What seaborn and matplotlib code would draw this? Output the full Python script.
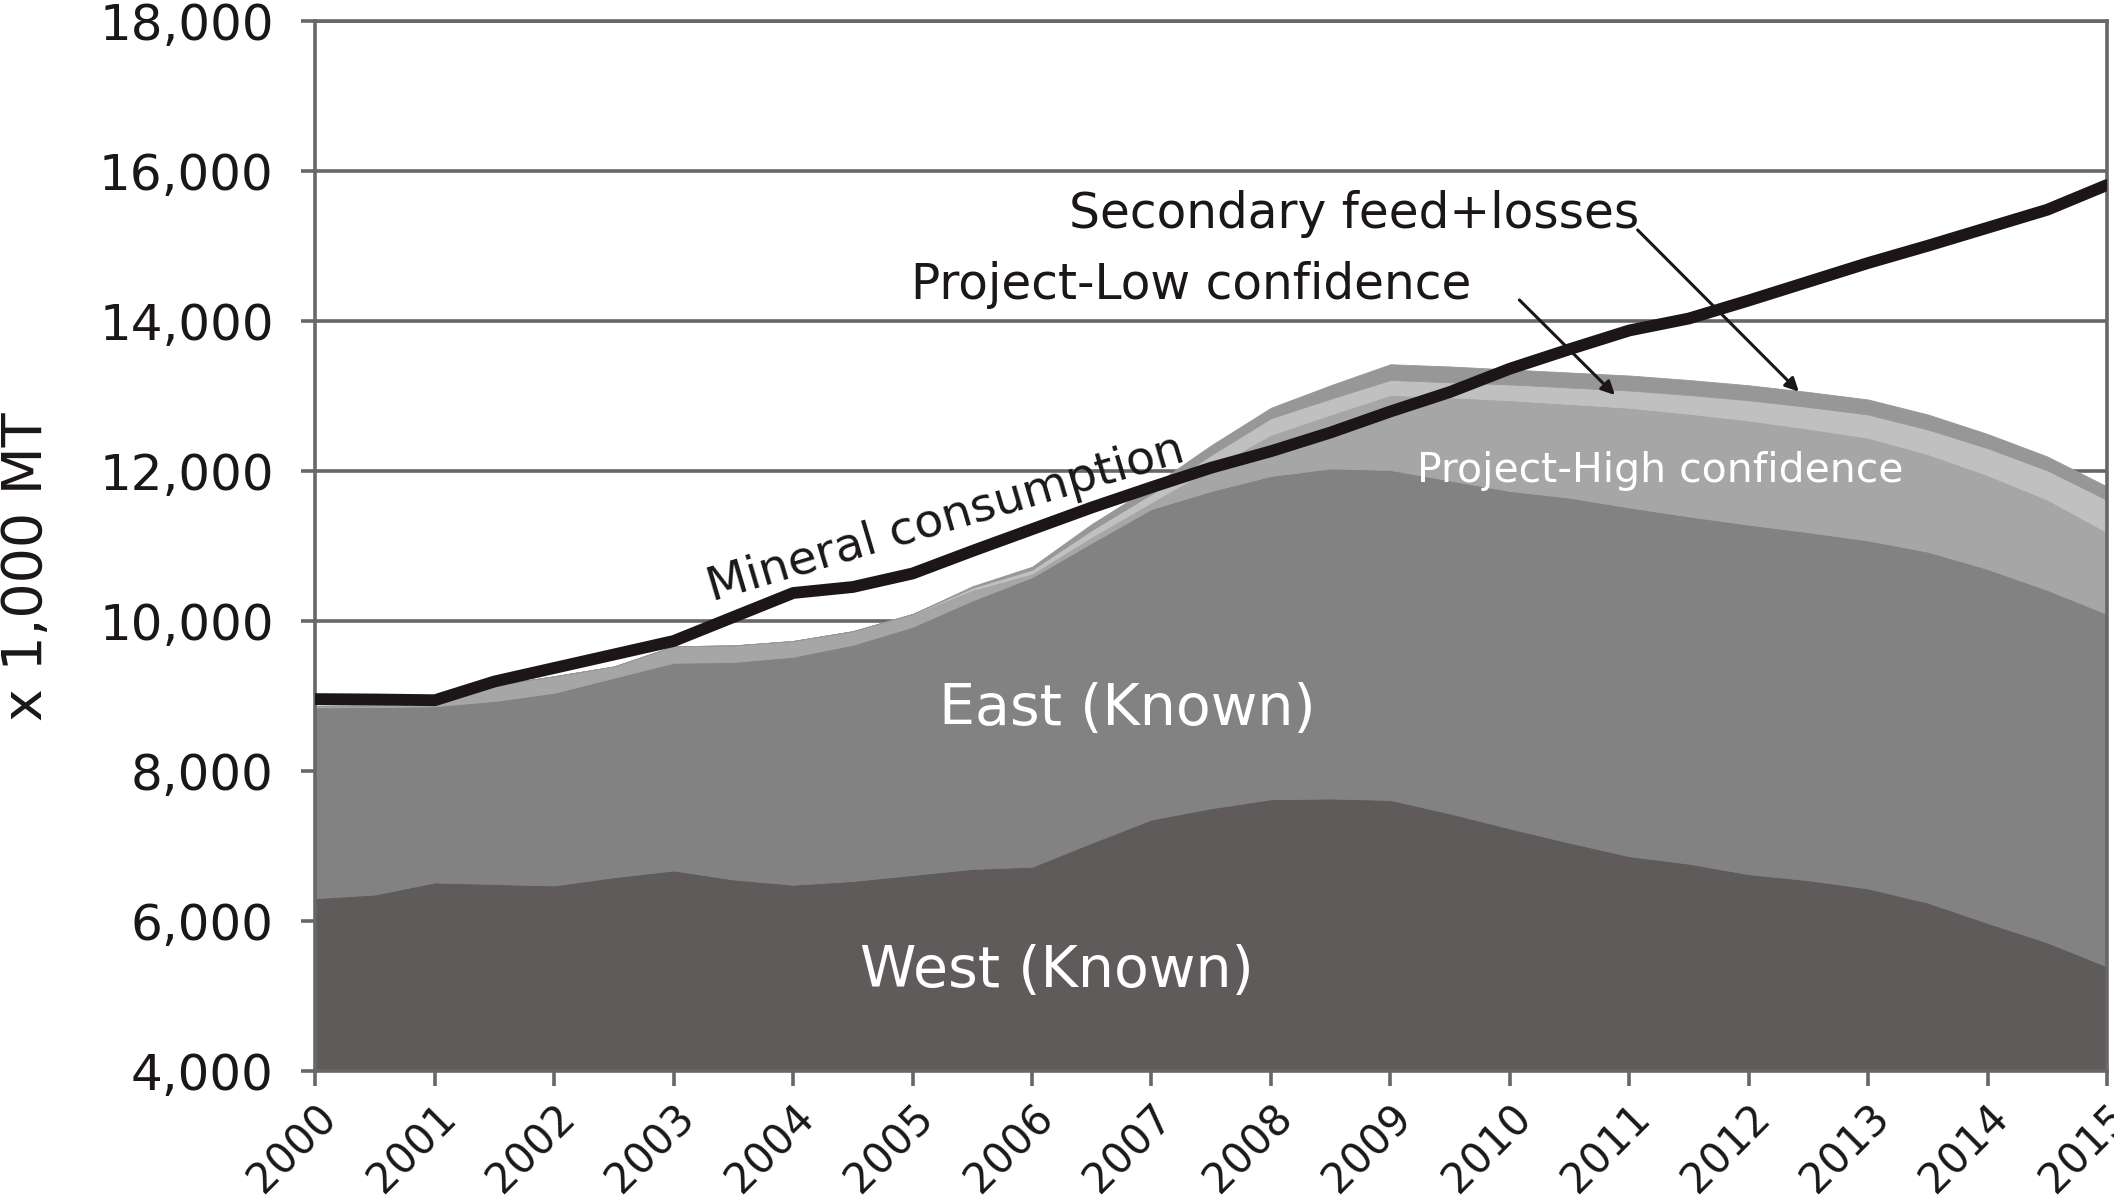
import matplotlib
matplotlib.use("Agg")
import matplotlib.pyplot as plt
from matplotlib.ticker import FuncFormatter
from matplotlib.transforms import ScaledTranslation
import pandas as pd
import seaborn as sns

# half-year points (x 1,000 MT)
years = [2000.0, 2000.5, 2001.0, 2001.5, 2002.0, 2002.5, 2003.0, 2003.5,
         2004.0, 2004.5, 2005.0, 2005.5, 2006.0, 2006.5, 2007.0, 2007.5,
         2008.0, 2008.5, 2009.0, 2009.5, 2010.0, 2010.5, 2011.0, 2011.5,
         2012.0, 2012.5, 2013.0, 2013.5, 2014.0, 2014.5, 2015.0]

west = [6310, 6360, 6520, 6500, 6480, 6590, 6680, 6560,
        6490, 6540, 6620, 6700, 6730, 7050, 7360, 7510,
        7630, 7640, 7620, 7440, 7240, 7050, 6870, 6770,
        6630, 6550, 6440, 6250, 5980, 5720, 5400]

east = [2545, 2500, 2350, 2440, 2570, 2660, 2770, 2900,
        3040, 3150, 3310, 3580, 3860, 4000, 4140, 4230,
        4310, 4400, 4400, 4440, 4500, 4600, 4650, 4630,
        4660, 4640, 4640, 4680, 4720, 4700, 4700]

high_conf = [20, 20, 60, 210, 220, 150, 220, 220,
             210, 180, 170, 140, 50, 80, 90, 310,
             550, 720, 1000, 1110, 1210, 1250, 1330, 1370,
             1390, 1380, 1370, 1300, 1250, 1205, 1090]

low_conf = [0, 0, 0, 0, 0, 0, 0, 0,
            0, 0, 0, 30, 50, 90, 110, 170,
            220, 210, 200, 200, 210, 220, 230, 250,
            270, 290, 310, 330, 360, 390, 430]

secondary = [0, 0, 0, 0, 0, 0, 0, 0,
             0, 0, 0, 20, 40, 80, 100, 130,
             140, 180, 210, 210, 200, 200, 200, 200,
             200, 200, 200, 200, 190, 185, 180]

consumption = [8965, 8960, 8950, 9200, 9380, 9560, 9740, 10060,
               10380, 10460, 10640, 10940, 11230, 11520, 11790, 12050,
               12270, 12520, 12800, 13060, 13370, 13630, 13880, 14040,
               14280, 14530, 14780, 15010, 15250, 15490, 15820]

tick_years = list(range(2000, 2016))
tick_labels = [str(y) for y in tick_years]
y_ticks = [4000, 6000, 8000, 10000, 12000, 14000, 16000, 18000]

# colours
c_west = "#5f5b5b"
c_east = "#828282"
c_high = "#a6a6a6"
c_low = "#c0c0c0"
c_sec = "#979797"
c_line = "#1c1616"
c_grid = "#676767"
c_text = "#1c1717"

sns.set_theme(style="white")
plt.rcParams["font.family"] = ["DejaVu Sans"]

fig = plt.figure(figsize=(21.14, 12), dpi=100)
ax = fig.add_axes([0.1492, 0.1071, 0.8475, 0.875])

ax.stackplot(years, west, east, high_conf, low_conf, secondary,
             colors=[c_west, c_east, c_high, c_low, c_sec],
             linewidth=0.6, edgecolor="face", zorder=1)

df = pd.DataFrame({"year": years, "consumption": consumption})
sns.lineplot(data=df, x="year", y="consumption", ax=ax, color=c_line,
             linewidth=8.5, zorder=3)

ax.set_xlim(2000, 2015)
ax.set_ylim(4000, 18000)
ax.set_xlabel("")
ax.set_ylabel("")

ax.set_yticks(y_ticks)
ax.yaxis.set_major_formatter(FuncFormatter(lambda v, p: f"{v:,.0f}"))
ax.set_xticks(tick_years)
ax.set_xticklabels(tick_labels, rotation=45, ha="right", va="top",
                   rotation_mode="anchor")
shift = ScaledTranslation(0.08, 0, fig.dpi_scale_trans)
for lab in ax.get_xticklabels():
    lab.set_transform(lab.get_transform() + shift)

ax.set_axisbelow(True)
ax.yaxis.grid(True, color=c_grid, linewidth=2.6)
ax.xaxis.grid(False)
for side in ["left", "bottom", "right", "top"]:
    ax.spines[side].set_visible(True)
    ax.spines[side].set_color(c_grid)
    ax.spines[side].set_linewidth(2.6)

ax.tick_params(axis="y", left=True, length=10, width=2.6, color=c_grid,
               pad=20, labelsize=36, labelcolor=c_text)
ax.tick_params(axis="x", bottom=True, length=11, width=2.6, color=c_grid,
               pad=7, labelsize=30, labelcolor=c_text)

fig.text(0.0128, 0.5275, "x 1,000 MT", rotation=90, fontsize=40,
         ha="center", va="center", color=c_text)

# labels inside the chart
ax.text(2006.21, 5133, "West (Known)", fontsize=41, color="white",
        ha="center", va="baseline", zorder=4)
ax.text(2006.80, 8617, "East (Known)", fontsize=41, color="white",
        ha="center", va="baseline", zorder=4)
ax.text(2011.26, 11863, "Project-High confidence", fontsize=29.5,
        color="white", ha="center", va="baseline", zorder=4)
ax.text(2003.32, 10273, "Mineral consumption", fontsize=34, color=c_text,
        rotation=16.5, rotation_mode="anchor", ha="left", va="baseline",
        zorder=4)
ax.text(2008.70, 15249, "Secondary feed+losses", fontsize=35, color=c_text,
        ha="center", va="baseline", zorder=4)
ax.text(2007.33, 14296, "Project-Low confidence", fontsize=35, color=c_text,
        ha="center", va="baseline", zorder=4)

arrow = dict(arrowstyle="-|>", color=c_line, lw=2.2, mutation_scale=20,
             shrinkA=0, shrinkB=0)
ax.annotate("", xy=(2010.88, 13020), xytext=(2010.08, 14287),
            arrowprops=arrow, zorder=5)
ax.annotate("", xy=(2012.42, 13064), xytext=(2011.07, 15220),
            arrowprops=arrow, zorder=5)

fig.savefig("out.png", dpi=100)
